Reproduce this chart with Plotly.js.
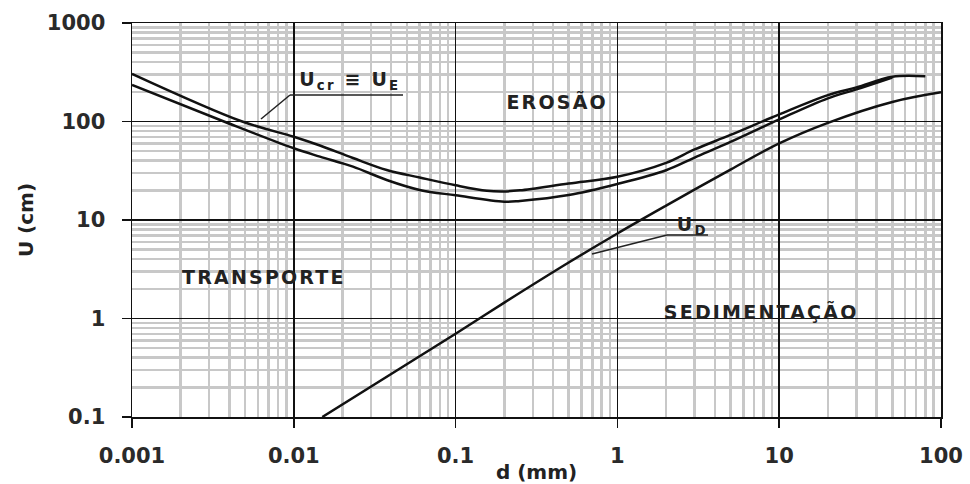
<!DOCTYPE html>
<html>
<head>
<meta charset="utf-8">
<script src="https://cdn.plot.ly/plotly-3.0.1.min.js"></script>
<style>
html,body{margin:0;padding:0;background:#fff;}
#chart{width:970px;height:484px;}
#chart .annotation-text{letter-spacing:2.2px;}
</style>
</head>
<body>
<div id="chart"></div>
<script>
// Erosion curves (Ucr = UE), upper and lower bound
const upperD = [0.001, 0.0048, 0.01, 0.0145, 0.0232, 0.0375, 0.06, 0.1, 0.156, 0.2, 0.25, 0.5, 1, 2, 3, 5, 10, 20, 30, 50, 80];
const upperU = [305, 100, 70, 57, 42.6, 32.2, 27, 22.5, 19.8, 19.5, 20, 23.5, 27.5, 38, 52, 73, 118, 185, 222, 285, 288];
const lowerD = [0.001, 0.0037, 0.01, 0.0145, 0.0232, 0.0375, 0.06, 0.1, 0.2, 0.25, 0.5, 1, 2, 3, 5, 10, 20, 30, 50];
const lowerU = [235, 100, 53.5, 44, 34.8, 25.5, 20.2, 17.8, 15.3, 15.6, 17.9, 23.2, 32, 43, 62, 105, 172, 212, 280];
// Sedimentation curve UD
const sedD = [0.015, 0.1, 0.2, 0.5, 1, 2, 5, 10, 20, 50, 100];
const sedU = [0.1, 0.7, 1.45, 3.7, 7.3, 14, 32.5, 60, 97, 158, 198];

const xTickVals = [0.001, 0.01, 0.1, 1, 10, 100];
const xTickText = ['0.001', '0.01', '0.1', '1', '10', '100'];
const yTickVals = [0.1, 1, 10, 100, 1000];
const yTickText = ['0.1', '1', '10', '100', '1000'];

function minorVals(lo, hi) {
  const v = [];
  for (let e = lo; e < hi; e++) for (let k = 2; k <= 9; k++) v.push(k * Math.pow(10, e));
  return v;
}

const FONT = 'DejaVu Sans, Arial, sans-serif';
const lineStyle = {color: '#111', width: 2.5, shape: 'spline', smoothing: 1};

const traces = [
  {x: upperD, y: upperU, mode: 'lines', line: lineStyle, hoverinfo: 'skip'},
  {x: lowerD, y: lowerU, mode: 'lines', line: lineStyle, hoverinfo: 'skip'},
  {x: sedD, y: sedU, mode: 'lines', line: lineStyle, hoverinfo: 'skip'}
];

// pixel -> paper helpers for labels and leader lines
const L = 132, R = 941, T = 23, B = 417;
const px = v => (v - L) / (R - L);
const py = v => (B - v) / (B - T);

const labelFont = {family: FONT, size: 19, color: '#222'};
function label(x, y, text) {
  return {xref: 'paper', yref: 'paper', x: px(x), y: py(y), xanchor: 'center', yanchor: 'middle',
          text: text, showarrow: false, font: labelFont};
}
const annotations = [
  label(557, 101, '<b>EROSÃO</b>'),
  label(264, 277, '<b>TRANSPORTE</b>'),
  label(761, 311, '<b>SEDIMENTAÇÃO</b>'),
  label(350, 80, '<b>U<sub>cr</sub> ≡ U<sub>E</sub></b>'),
  label(692, 226, '<b>U<sub>D</sub></b>')
];

const leader = {color: '#222', width: 1.5};
const shapes = [
  {type: 'line', xref: 'paper', yref: 'paper', x0: px(261), y0: py(119), x1: px(290), y1: py(95), line: leader},
  {type: 'line', xref: 'paper', yref: 'paper', x0: px(290), y0: py(95), x1: px(403), y1: py(95), line: leader},
  {type: 'line', xref: 'paper', yref: 'paper', x0: px(592), y0: py(254), x1: px(667), y1: py(235), line: leader},
  {type: 'line', xref: 'paper', yref: 'paper', x0: px(667), y0: py(235), x1: px(708), y1: py(235), line: leader}
];

const axisCommon = {
  type: 'log',
  tickmode: 'array',
  showline: true, linecolor: '#111', linewidth: 1.5, mirror: true,
  showgrid: true, gridcolor: '#111', gridwidth: 1.5,
  ticks: 'outside', ticklen: 9, tickwidth: 1.5, tickcolor: '#111',
  tickfont: {family: FONT, size: 21, color: '#2a2a2a', weight: 'bold'},
  zeroline: false
};

const layout = {
  width: 970, height: 484,
  margin: {l: L, r: 970 - R, t: T, b: 484 - B},
  paper_bgcolor: '#fff', plot_bgcolor: '#fff',
  showlegend: false,
  xaxis: Object.assign({}, axisCommon, {
    range: [-3, 2],
    tickvals: xTickVals, ticktext: xTickText,
    ticklabelstandoff: 10,
    minor: {tickmode: 'array', tickvals: minorVals(-3, 2), showgrid: true, gridcolor: '#c8c8c8', gridwidth: 2.5, ticks: ''},
    title: {text: '<b>d (mm)</b>', font: {family: FONT, size: 20, color: '#222'}, standoff: 2}
  }),
  yaxis: Object.assign({}, axisCommon, {
    range: [-1, 3],
    tickvals: yTickVals, ticktext: yTickText,
    ticklabelstandoff: 12,
    minor: {tickmode: 'array', tickvals: minorVals(-1, 3), showgrid: true, gridcolor: '#c8c8c8', gridwidth: 2.5, ticks: ''},
    title: {text: '<b>U (cm)</b>', font: {family: FONT, size: 20, color: '#222'}, standoff: 8}
  }),
  annotations: annotations,
  shapes: shapes
};

Plotly.newPlot('chart', traces, layout, {displayModeBar: false, staticPlot: true});
</script>
</body>
</html>
